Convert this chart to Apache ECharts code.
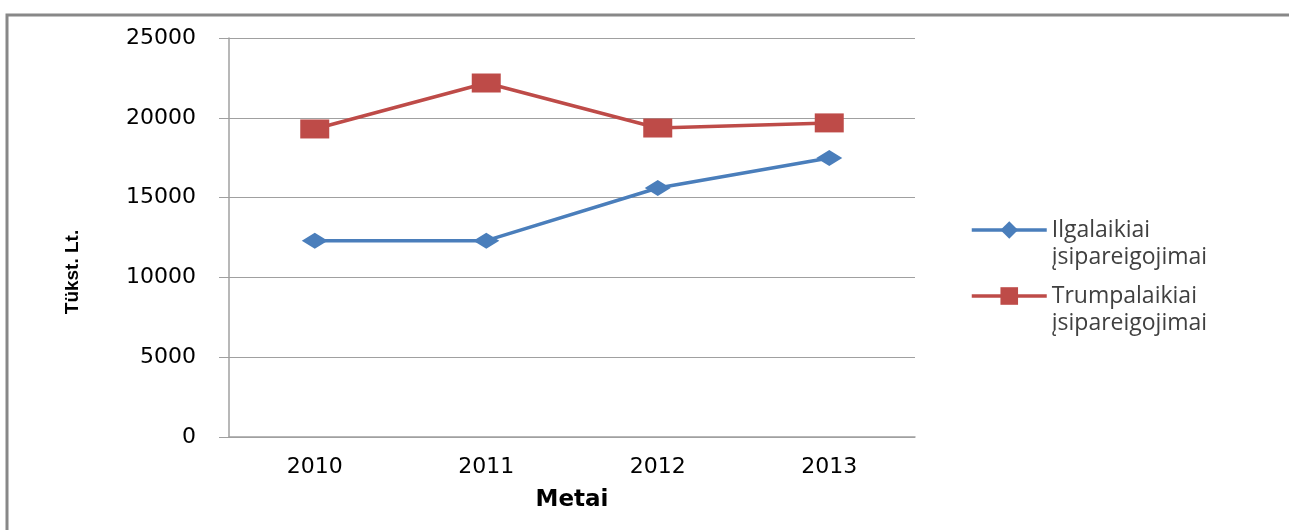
<!DOCTYPE html>
<html>
<head>
<meta charset="utf-8">
<script src="https://cdn.jsdelivr.net/npm/echarts@6/dist/echarts.min.js"></script>
<style>
  html, body { margin: 0; padding: 0; background: #fff; }
  #main { width: 1289px; height: 530px; }
</style>
</head>
<body>
<div id="main"></div>
<script>
var years = ['2010', '2011', '2012', '2013'];
var ilgalaikiai = [12300, 12300, 15600, 17480];
var trumpalaikiai = [19300, 22180, 19360, 19680];
var yTicks = [0, 5000, 10000, 15000, 20000, 25000];
var seriesNames = ['Ilgalaikiai\nįsipareigojimai', 'Trumpalaikiai\nįsipareigojimai'];

var chartDom = document.getElementById('main');
var myChart = echarts.init(chartDom);
var option;

// one legend per series so the icon lines up with the first text line
// (a blank first line pushes the text down so line 1 sits on the icon)
function makeLegend(name, iconY) {
  return {
    orient: 'vertical',
    left: 970,
    top: iconY - 40.5,
    padding: 0,
    itemWidth: 75,
    itemHeight: 22,
    lineStyle: { width: 3.5 },
    formatter: function (n) { return '\n' + n; },
    textStyle: {
      fontFamily: 'Open Sans', fontSize: 23, color: '#404040', lineHeight: 27
    },
    data: [{ name: name }]
  };
}

option = {
  animation: false,
  textStyle: { fontFamily: 'DejaVu Sans' },
  graphic: [
    {
      type: 'polyline',
      shape: { points: [[7, 540], [7, 15], [1300, 15]] },
      style: { stroke: '#888', lineWidth: 3, fill: null }
    },
    // y axis title, sits a bit below the middle like the original
    {
      type: 'text',
      x: 73,
      y: 272,
      rotation: Math.PI / 2,
      style: {
        text: 'Tükst. Lt.',
        fontFamily: 'Liberation Sans',
        fontWeight: 'bold',
        fontSize: 19,
        fill: '#000',
        align: 'center',
        verticalAlign: 'middle'
      }
    }
  ],
  grid: { left: 229, right: 374, top: 38, bottom: 93 },
  legend: [
    makeLegend(seriesNames[0], 230),
    makeLegend(seriesNames[1], 296)
  ],
  xAxis: {
    type: 'category',
    data: years,
    name: 'Metai',
    nameLocation: 'middle',
    nameGap: 52,
    nameTextStyle: { fontWeight: 'bold', fontSize: 23, color: '#000' },
    axisLine: { lineStyle: { color: '#a0a0a0', width: 1.5 } },
    axisTick: { show: false },
    axisLabel: { fontSize: 22, color: '#000', margin: 19 }
  },
  yAxis: {
    type: 'value',
    min: 0,
    max: 25000,
    interval: 5000,
    axisLine: { show: true, lineStyle: { color: '#a0a0a0', width: 1.5 } },
    axisTick: { show: true, length: 10, lineStyle: { color: '#a0a0a0' } },
    splitLine: { lineStyle: { color: '#a0a0a0', width: 1 } },
    axisLabel: {
      fontSize: 22,
      color: '#000',
      margin: 33,
      formatter: function (v) { return yTicks.indexOf(v) >= 0 ? String(v) : ''; }
    }
  },
  series: [
    {
      name: seriesNames[0],
      type: 'line',
      data: ilgalaikiai,
      symbol: 'diamond',
      symbolSize: [26, 16],
      lineStyle: { color: '#4a7ebb', width: 3.5 },
      itemStyle: { color: '#4a7ebb' }
    },
    {
      name: seriesNames[1],
      type: 'line',
      data: trumpalaikiai,
      symbol: 'rect',
      symbolSize: [29, 19],
      lineStyle: { color: '#be4b48', width: 3.5 },
      itemStyle: { color: '#be4b48' }
    }
  ]
};

myChart.setOption(option);
</script>
</body>
</html>
